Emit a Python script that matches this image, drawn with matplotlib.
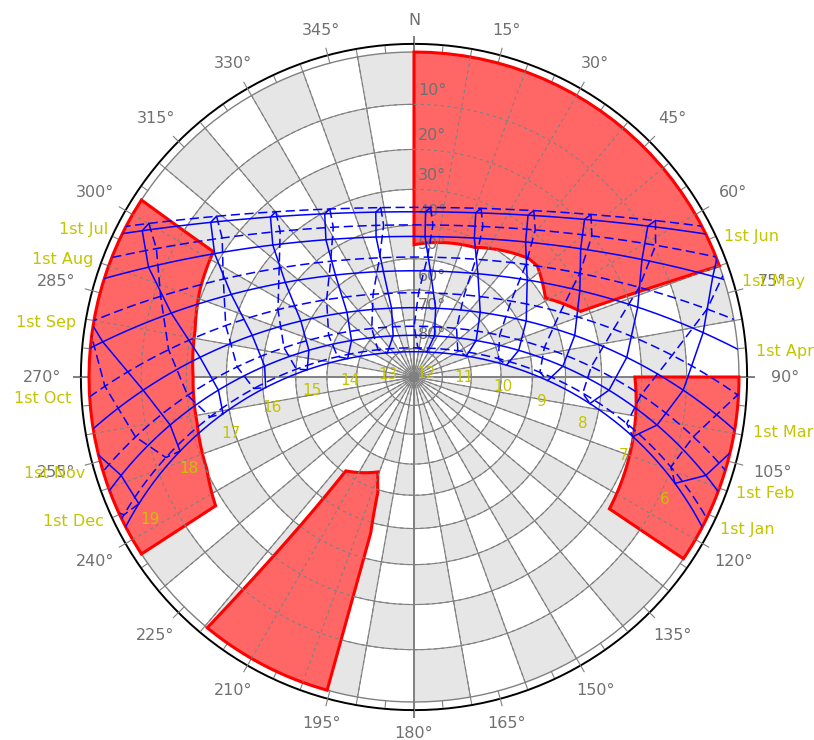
import numpy as np
import matplotlib.pyplot as plt
from matplotlib.patches import Circle

# site used for the sun path (Perth, WA)
latitude = -31.95
longitude = 115.86
timezone = 8.0

month_names = ['Jan', 'Feb', 'Mar', 'Apr', 'May', 'Jun',
               'Jul', 'Aug', 'Sep', 'Oct', 'Nov', 'Dec']
month_first_doy = [1, 32, 60, 91, 121, 152, 182, 213, 244, 274, 305, 335]
path_hours = list(range(6, 20))

azimuth_ticks = list(range(0, 360, 15))
altitude_rings = list(range(10, 90, 10))

# obstruction outlines, (azimuth, altitude)
shade_top_az = [0, 0, 25, 44, 48, 59, 68.5, 70]
shade_top_alt = [0, 45.7, 42.5, 36.2, 35.9, 39.5, 32.3, 0]
shade_east_az = [90, 90, 105, 124, 124]
shade_east_alt = [0, 21.6, 20.1, 18.1, 0]
shade_south_az = [195.5, 195.5, 197.4, 200.8, 216, 219.5]
shade_south_alt = [0, 37, 49.2, 55.3, 50.7, 0]
shade_west_az = [237, 237, 246, 258, 270, 282, 292, 302, 303]
shade_west_alt = [0, 17.9, 20.2, 21.4, 21.6, 20.9, 19.2, 17.9, 0]

GREY = '#808080'
TXT = '#707070'
OLIVE = '#C4C400'
FONT = 'DejaVu Sans'


def project(az, alt):
    az = np.radians(np.asarray(az, float))
    rr = np.tan(np.radians(90 - np.asarray(alt, float)) / 2)
    return rr * np.sin(az), rr * np.cos(az)


def outline(az, alt, n=24):
    az = list(az) + [az[0]]
    alt = list(alt) + [alt[0]]
    t = np.linspace(0, 1, n, endpoint=False)
    oa, oh = [], []
    for i in range(len(az) - 1):
        oa.extend(az[i] + (az[i + 1] - az[i]) * t)
        oh.extend(alt[i] + (alt[i + 1] - alt[i]) * t)
    return project(oa, oh)


def sun_position(doy, hour):
    g = 2 * np.pi / 365 * (doy - 1 + (hour - 12) / 24)
    eqt = 229.18 * (0.000075 + 0.001868 * np.cos(g) - 0.032077 * np.sin(g)
                    - 0.014615 * np.cos(2 * g) - 0.040849 * np.sin(2 * g))
    dec = (0.006918 - 0.399912 * np.cos(g) + 0.070257 * np.sin(g)
           - 0.006758 * np.cos(2 * g) + 0.000907 * np.sin(2 * g)
           - 0.002697 * np.cos(3 * g) + 0.00148 * np.sin(3 * g))
    tst = hour * 60 + eqt + 4 * longitude - 60 * timezone
    ha = np.radians(tst / 4 - 180)
    lat = np.radians(latitude)
    cz = np.sin(lat) * np.sin(dec) + np.cos(lat) * np.cos(dec) * np.cos(ha)
    alt = np.degrees(np.arcsin(np.clip(cz, -1, 1)))
    az = np.degrees(np.arctan2(np.sin(ha), np.cos(ha) * np.sin(lat)
                               - np.tan(dec) * np.cos(lat))) + 180
    return az % 360, alt, np.degrees(dec)


fig = plt.figure(figsize=(8.14, 7.4), dpi=100)
ax = fig.add_axes([0, 0, 1, 1])
ax.set_xlim(-414 / 325, 400 / 325)
ax.set_ylim(-363 / 325, 377 / 325)
ax.set_aspect('equal')
ax.axis('off')

horizon = Circle((0, 0), 1, transform=ax.transData)

# checkerboard of 10 deg cells
for i in range(36):
    for j in range(9):
        if (i + j) % 2 == 1:
            a0, a1 = 10 * i, 10 * i + 10
            h0, h1 = 10 * j, 10 * j + 10
            x, y = outline([a0, a1, a1, a0], [h0, h0, h1, h1], n=12)
            ax.fill(x, y, color='#E6E6E6', lw=0, zorder=0)

circ = np.linspace(0, 360, 361)


def draw_grid(style, z):
    for h in altitude_rings:
        x, y = project(circ, np.full_like(circ, h))
        ax.plot(x, y, color=GREY, lw=0.8, ls=style, zorder=z)
    for a in range(0, 360, 10):
        if a % 90 == 0:
            continue
        x, y = project([a, a], [0, 90])
        ax.plot(x, y, color=GREY, lw=0.8, ls=style, zorder=z)


draw_grid('-', 1)
draw_grid((0, (3, 3)), 3)

# main axes lines
for a in [0, 90]:
    rad = np.radians(a)
    ax.plot([-1.047 * np.sin(rad), 1.047 * np.sin(rad)],
            [-1.047 * np.cos(rad), 1.047 * np.cos(rad)],
            color=GREY, lw=1.4, zorder=1)

# rim: horizon, outer ring and ticks
x, y = project(circ, np.zeros_like(circ))
ax.plot(x, y, color=GREY, lw=1.0, zorder=1)
ax.plot(1.025 * x, 1.025 * y, color='black', lw=1.4, zorder=1)
for a in range(0, 360, 5):
    rad = np.radians(a)
    r1 = 1.047 if a % 15 == 0 else 1.02
    ax.plot([np.sin(rad), r1 * np.sin(rad)], [np.cos(rad), r1 * np.cos(rad)],
            color=GREY, lw=0.8, zorder=1)

for a in azimuth_ticks:
    rad = np.radians(a)
    rl = 1.098 + 0.045 * abs(np.sin(rad)) ** 1.5
    label = 'N' if a == 0 else f'{a}°'
    ax.text(rl * np.sin(rad), rl * np.cos(rad), label, ha='center', va='center',
            fontsize=11.5, color=TXT, family=FONT, zorder=6)

for h in altitude_rings:
    x, y = project(0, h)
    ax.annotate(f'{h}°', (x, y), xytext=(3, 10), textcoords='offset points',
                ha='left', va='center', fontsize=11.5, color=TXT,
                family=FONT, zorder=3)

# shading mask
for az_list, alt_list in [(shade_top_az, shade_top_alt),
                          (shade_east_az, shade_east_alt),
                          (shade_south_az, shade_south_alt),
                          (shade_west_az, shade_west_alt)]:
    x, y = outline(az_list, alt_list)
    ax.fill(x, y, facecolor='#FF6666', edgecolor='#FF0000', lw=2.2, zorder=2)


def blue_line(az, alt, dashed):
    alt = np.where(alt < -60, np.nan, alt)
    x, y = project(az, alt)
    ln, = ax.plot(x, y, color='#0000FF', lw=1.1, zorder=4,
                  dashes=(6, 3) if dashed else (None, None))
    ln.set_clip_path(horizon)


# month curves (1st of each month), Jan-Jun solid, Jul-Dec dashed
day_hours = np.arange(0, 24.001, 1 / 30)
for m, doy in enumerate(month_first_doy):
    az, alt, _ = sun_position(doy, day_hours)
    blue_line(az, alt, m >= 6)

# hour lines joining the 1st-of-month positions
loop_doy = np.array(month_first_doy + [366])
for hr in path_hours:
    az, alt, _ = sun_position(loop_doy, hr)
    blue_line(az[:7], alt[:7], False)
    blue_line(az[6:], alt[6:], True)

for hr in path_hours:
    az, alt, _ = sun_position(1, hr)
    x, y = project(az, alt)
    ax.annotate(str(hr), (0.96 * x, 0.96 * y), xytext=(0, -15),
                textcoords='offset points', ha='center', va='center',
                fontsize=11, color=OLIVE, family=FONT, zorder=6)

# month labels at sunrise (Jan-Jun) / sunset (Jul-Dec)
lat = np.radians(latitude)
for m, doy in enumerate(month_first_doy):
    _, _, dec = sun_position(doy, 12)
    a = np.degrees(np.arccos(np.sin(np.radians(dec)) / np.cos(lat)))
    if m >= 6:
        a = 360 - a
    x, y = project(a, 0)
    east = m < 6
    ax.annotate(f'1st {month_names[m]}', (x, y), xytext=(13 if east else -13, -2),
                textcoords='offset points', ha='left' if east else 'right',
                va='center', fontsize=11.5, color=OLIVE,
                family=FONT, zorder=6)

fig.savefig('out.png', dpi=100)
